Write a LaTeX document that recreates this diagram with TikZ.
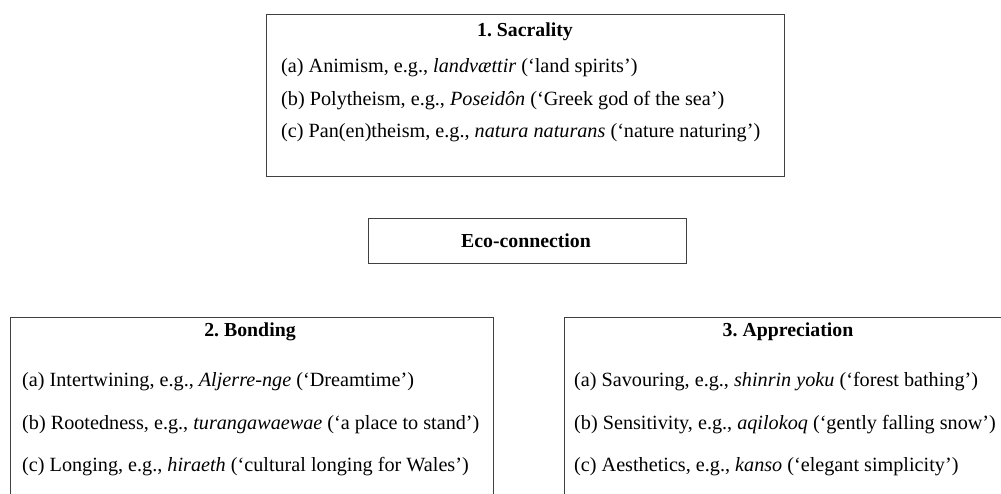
\documentclass[tikz,border=0pt]{standalone}
\usepackage{fontspec}
\setmainfont{Liberation Serif}
\usepackage{tikz}
\usetikzlibrary{positioning}
\frenchspacing
\newcommand{\framew}{1pt}
\newcommand{\titlesize}{\fontsize{19.8}{23}\selectfont}
\newcommand{\txtsize}{\fontsize{20.2}{24}\selectfont}

\begin{document}
\begin{tikzpicture}[x=1pt,y=-1pt]
    \tikzset{FrameStyle/.style = {draw=black!75, line width=\framew, inner sep=0pt}}
    \tikzset{TitleStyle/.style = {font=\titlesize\bfseries, inner sep=0pt}}
    \tikzset{ItemStyle/.style = {font=\txtsize, anchor=west, inner sep=0pt}}
    \useasboundingbox (0,0) rectangle (1001,493);
    \clip (0,0) rectangle (1001,493);
    %\draw[help lines, step=50] (0,0) grid (1001,493);

    % frames
    \node[FrameStyle, minimum width=518, minimum height=162] (sacr) at (525,95) {};
    \node[FrameStyle, minimum width=318, minimum height=45] (eco) at (527,240.5) {};
    \node[FrameStyle, minimum width=483, minimum height=220] (bond) at (251.5,427) {};
    \node[FrameStyle, minimum width=448, minimum height=220] (appr) at (788,427) {};

    % 1. Sacrality
    \node[TitleStyle] (sacrt) at (525,32) {1. Sacrality};
    \node[ItemStyle] (sacra) at (281,68) {(a) Animism, e.g., \textit{landvættir} (`land spirits')};
    \node[ItemStyle] (sacrb) at (281,101) {(b) Polytheism, e.g., \textit{Poseidôn} (`Greek god of the sea')};
    \node[ItemStyle] (sacrc) at (281,133) {(c) Pan(en)theism, e.g., \textit{natura naturans} (`nature naturing')};

    \node[TitleStyle] (ecot) at (526,241) {Eco-connection};

    % 2. Bonding
    \node[TitleStyle] (bondt) at (250,332) {2. Bonding};
    \node[ItemStyle] (bonda) at (22,382) {(a) Intertwining, e.g., \textit{Aljerre-nge} (`Dreamtime')};
    \node[ItemStyle] (bondb) at (22,425) {(b) Rootedness, e.g., \textit{turangawaewae} (`a place to stand')};
    \node[ItemStyle] (bondc) at (22,467) {(c) Longing, e.g., \textit{hiraeth} (`cultural longing for Wales')};

    % 3. Appreciation
    \node[TitleStyle] (apprt) at (788,332) {3. Appreciation};
    \node[ItemStyle] (appra) at (574,382) {(a) Savouring, e.g., \textit{shinrin yoku} (`forest bathing')};
    \node[ItemStyle] (apprb) at (574,425) {(b) Sensitivity, e.g., \textit{aqilokoq} (`gently falling snow')};
    \node[ItemStyle] (apprc) at (574,467) {(c) Aesthetics, e.g., \textit{kanso} (`elegant simplicity')};
\end{tikzpicture}
\end{document}
